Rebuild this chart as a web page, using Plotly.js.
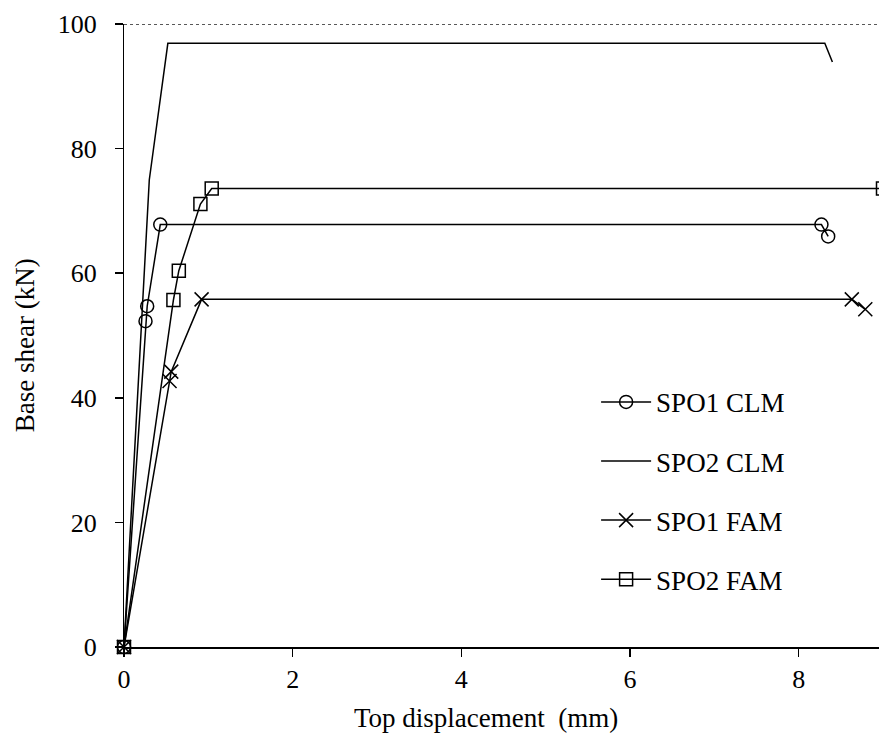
<!DOCTYPE html>
<html>
<head>
<meta charset="utf-8">
<script src="https://cdn.plot.ly/plotly-3.0.1.min.js"></script>
<style>html,body{margin:0;padding:0;background:#fff;overflow:hidden;}#chart{width:883px;height:744px;}</style>
</head>
<body>
<div id="chart"></div>
<script>
var seriesNames = ["SPO1 CLM", "SPO2 CLM", "SPO1 FAM", "SPO2 FAM"];

var spo1ClmX = [0, 0.255, 0.275, 0.43, 8.27, 8.35];
var spo1ClmY = [0, 52.3, 54.7, 67.8, 67.8, 65.9];

var spo2ClmX = [0, 0.30, 0.52, 8.31, 8.40];
var spo2ClmY = [0, 75.0, 96.9, 96.9, 93.9];

var spo1FamX = [0, 0.54, 0.56, 0.92, 8.63, 8.79];
var spo1FamY = [0, 42.7, 44.2, 55.8, 55.8, 54.2];

var spo2FamX = [0, 0.586, 0.65, 0.906, 1.04, 9.0];
var spo2FamY = [0, 55.7, 60.4, 71.1, 73.6, 73.6];

var xTicks = [0, 2, 4, 6, 8];
var yTicks = [0, 20, 40, 60, 80, 100];

var xTitle = "Top displacement  (mm)";
var yTitle = "Base shear (kN)";

var font = "Liberation Serif, Times New Roman, serif";
var lineStyle = {color: "#000", width: 1.5};

var traces = [
  {x: spo1ClmX, y: spo1ClmY, name: seriesNames[0], legendgroup: "a", mode: "lines+markers", line: lineStyle,
   marker: {symbol: "circle-open", size: 13, color: "#000", line: {width: 1.5, color: "#000"}}},
  {x: spo2ClmX, y: spo2ClmY, name: seriesNames[1], legendgroup: "b", mode: "lines", line: lineStyle, yaxis: "y2"},
  {x: spo1FamX, y: spo1FamY, name: seriesNames[2], legendgroup: "c", mode: "lines+markers", line: lineStyle,
   marker: {symbol: "x-thin-open", size: 14, color: "#000", line: {width: 1.5, color: "#000"}}},
  {x: spo2FamX, y: spo2FamY, name: seriesNames[3], legendgroup: "d", mode: "lines+markers", line: lineStyle,
   marker: {symbol: "square-open", size: 13, color: "#000", line: {width: 1.5, color: "#000"}}}
];
traces.forEach(function(t){ t.cliponaxis = false; });

var layout = {
  width: 883, height: 744,
  margin: {l: 124, r: 0, t: 24, b: 97},
  paper_bgcolor: "#fff", plot_bgcolor: "#fff",
  font: {family: font, size: 26, color: "#000"},
  showlegend: true,
  legend: {x: 0.622, y: 0.432, xanchor: "left", yanchor: "top", tracegroupgap: 21,
           bgcolor: "rgba(0,0,0,0)", font: {family: font, size: 27, color: "#000"}, itemwidth: 50},
  xaxis: {
    range: [0, 9], tickvals: xTicks, ticktext: xTicks.map(String),
    showgrid: false, zeroline: false, showline: true, linecolor: "#000", linewidth: 1.5,
    ticks: "outside", ticklen: 8, tickwidth: 1.5, tickcolor: "#000",
    tickfont: {family: font, size: 26}
  },
  yaxis: {
    range: [0, 100], tickvals: yTicks, showticklabels: false,
    showgrid: false, zeroline: false, showline: true, linecolor: "#000", linewidth: 1.5,
    ticks: "outside", ticklen: 8, tickwidth: 1.5, tickcolor: "#000"
  },
  yaxis2: {
    overlaying: "y", side: "left", anchor: "x",
    range: [0, 100], tickvals: yTicks, ticktext: yTicks.map(String),
    showgrid: false, zeroline: false, showline: false,
    ticks: "outside", ticklen: 21, tickwidth: 1, tickcolor: "rgba(0,0,0,0)",
    tickfont: {family: font, size: 26}
  },
  annotations: [
    {text: xTitle, xref: "paper", yref: "paper", x: 0.477, y: -0.114, xanchor: "center", yanchor: "middle",
     showarrow: false, font: {family: font, size: 27, color: "#000"}},
    {text: yTitle, xref: "paper", yref: "paper", x: -0.130, y: 0.485, xanchor: "center", yanchor: "middle",
     textangle: -90, showarrow: false, font: {family: font, size: 27, color: "#000"}}
  ],
  shapes: [
    {type: "line", xref: "paper", yref: "y", x0: 0, x1: 1, y0: 100, y1: 100,
     line: {color: "#222", width: 1.5, dash: "dot"}}
  ]
};

Plotly.newPlot("chart", traces, layout, {staticPlot: true, displayModeBar: false});
</script>
</body>
</html>
